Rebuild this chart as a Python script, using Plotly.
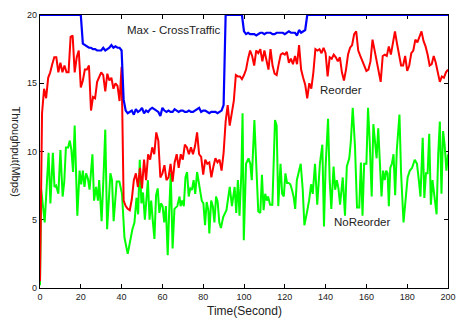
import plotly.graph_objects as go

# time axis (seconds)
time_s = list(range(0, 201))

# Max - CrossTraffic (Mbps), one value per second
max_cross = [
    20, 20, 20, 20, 20, 20, 20, 20, 20, 20,
    20, 20, 20, 20, 20, 20, 20, 20, 20, 20,
    20, 17.9, 17.8, 17.7, 17.6, 17.6, 17.5, 17.5, 17.4, 17.4,
    17.4, 17.6, 17.4, 17.5, 17.6, 17.8, 17.6, 17.7, 17.6, 17.6,
    17.4, 13.8, 13.0, 12.8, 12.9, 13.0, 12.7, 13.1, 12.9, 13.0,
    13.2, 12.8, 13.0, 12.9, 13.1, 13.2, 13.1, 13.0, 12.9, 12.6,
    13.2, 13.0, 12.9, 13.0, 12.9, 12.9, 13.1, 13.0, 12.9, 13.0,
    13.0, 12.9, 12.9, 13.0, 12.9, 12.9, 13.0, 13.1, 13.2, 12.9,
    13.0, 13.0, 12.9, 12.8, 12.9, 12.9, 12.9, 12.8, 12.9, 13.0,
    13.4, 20, 20, 20, 20, 20, 20, 20, 20, 20,
    18.8, 18.6, 18.7, 18.6, 18.6, 18.6, 18.5, 18.6, 18.7, 18.7,
    18.6, 18.7, 18.7, 18.7, 18.6, 18.6, 18.7, 18.7, 18.7, 18.7,
    18.6, 18.7, 18.8, 18.7, 18.7, 18.7, 18.5, 18.9, 18.7, 18.8,
    18.9, 20, 20, 20, 20, 20, 20, 20, 20, 20,
    20, 20, 20, 20, 20, 20, 20, 20, 20, 20,
    20, 20, 20, 20, 20, 20, 20, 20, 20, 20,
    20, 20, 20, 20, 20, 20, 20, 20, 20, 20,
    20, 20, 20, 20, 20, 20, 20, 20, 20, 20,
    20, 20, 20, 20, 20, 20, 20, 20, 20, 20,
    20, 20, 20, 20, 20, 20, 20, 20, 20, 20,
    20,
]

# Reorder (Mbps), one value per second
reorder = [
    0.5, 12.8, 14.6, 13.9, 15.4, 15.8, 16.4, 16.9, 16.9, 15.8,
    16.5, 15.8, 16.3, 15.8, 15.8, 18.4, 18.5, 15.8, 16.9, 17.4,
    14.7, 15.2, 16.0, 16.0, 16.3, 13.0, 14.0, 13.9, 15.1, 15.5,
    15.8, 15.6, 14.4, 15.7, 15.2, 15.4, 14.6, 15.0, 14.8, 13.7,
    16.2, 6.4, 6.0, 5.8, 5.7, 6.5, 7.9, 8.4, 7.4, 8.8,
    7.3, 9.4, 7.9, 9.8, 9.4, 10.3, 9.8, 11.4, 10.8, 8.1,
    8.4, 9.0, 7.9, 8.1, 9.1, 7.8, 9.2, 9.8, 8.8, 9.8,
    9.4, 10.5, 10.3, 9.8, 10.3, 9.8, 10.4, 11.4, 9.8, 9.6,
    8.3, 9.4, 9.1, 9.2, 8.1, 8.9, 9.5, 9.2, 9.4, 8.6,
    9.9, 12.2, 13.4, 11.9, 12.7, 13.7, 15.6, 15.5, 15.5, 15.3,
    15.6, 16.0, 16.8, 17.4, 17.0, 16.3, 17.4, 17.2, 17.5, 16.6,
    17.4, 16.6, 16.0, 17.5, 16.3, 15.7, 15.6, 16.4, 17.1, 17.2,
    17.1, 17.3, 16.5, 16.8, 16.4, 17.0, 16.4, 17.8, 16.0, 15.4,
    14.9, 13.9, 15.0, 14.6, 15.8, 17.5, 17.4, 17.5, 17.2, 17.6,
    17.2, 15.5, 16.9, 16.8, 17.1, 16.9, 16.6, 16.9, 15.8, 15.2,
    16.0, 17.1, 17.6, 17.8, 18.6, 18.8, 17.4, 17.0, 16.6, 16.3,
    15.9, 16.0, 16.6, 18.2, 17.4, 16.6, 15.9, 15.1, 17.0, 17.1,
    17.0, 17.7, 17.1, 18.0, 18.8, 17.9, 17.2, 16.3, 16.3, 17.0,
    15.9, 16.3, 17.2, 17.4, 18.2, 18.0, 18.4, 18.8, 18.1, 17.7,
    17.1, 16.3, 16.4, 17.0, 16.5, 15.7, 15.1, 15.5, 15.4, 15.8,
    16.0,
]

# NoReorder samples: (time in s, throughput in Mbps)
noreorder_samples = [
    (0, 0.2), (0.6, 7.2), (2.3, 4.8), (3.2, 7.0), (4.2, 9.9), (5.1, 6.2),
    (6.3, 9.9), (7.1, 7.4), (7.9, 7.5), (9.0, 6.9), (10.0, 10.1), (11.1, 6.7),
    (11.9, 7.8), (12.7, 10.3), (13.8, 10.3), (14.6, 10.8), (15.4, 10.1),
    (16.2, 8.5), (17.0, 11.9), (18.3, 5.3), (19.4, 8.6), (20.2, 7.6),
    (21.0, 8.6), (21.8, 7.4), (22.6, 8.4), (23.5, 8.0), (24.3, 7.2),
    (25.7, 9.8), (26.5, 6.4), (27.5, 7.4), (28.4, 6.4), (29.0, 7.9),
    (30.2, 4.9), (31.2, 8.4), (32.0, 11.6), (32.9, 4.3), (34.5, 8.4),
    (35.3, 7.9), (36.1, 4.9), (37.6, 7.8), (38.9, 7.8), (40.2, 6.9),
    (41.4, 3.7), (43.0, 2.5), (44.2, 3.5), (45.3, 4.3), (46.3, 4.8),
    (47.3, 6.6), (48.1, 5.4), (48.9, 9.4), (49.7, 6.2), (50.5, 7.0),
    (51.4, 5.0), (52.1, 6.4), (52.9, 7.9), (53.7, 5.0), (54.5, 6.4),
    (55.3, 4.9), (56.1, 3.6), (56.9, 6.8), (57.7, 7.3), (58.5, 5.5),
    (59.3, 6.2), (60.1, 6.0), (60.9, 4.8), (61.7, 6.0), (62.6, 2.4),
    (63.3, 5.5), (64.1, 8.4), (65.0, 2.9), (65.9, 5.8), (67.3, 6.0),
    (68.4, 6.7), (68.9, 6.0), (69.7, 6.4), (70.5, 6.0), (71.3, 8.1),
    (72.1, 8.5), (72.9, 6.7), (73.7, 7.3), (74.5, 7.2), (75.3, 7.9),
    (76.1, 6.9), (77.0, 8.5), (77.7, 7.9), (78.5, 7.4), (79.3, 6.4),
    (80.1, 6.2), (80.9, 4.6), (81.7, 6.3), (82.5, 5.7), (83.0, 4.0),
    (83.9, 6.4), (84.7, 6.0), (85.5, 4.8), (86.3, 6.7), (87.1, 6.3),
    (87.9, 4.8), (88.7, 4.4), (89.8, 5.2), (91.4, 5.7), (93.0, 7.4),
    (94.1, 6.0), (95.4, 7.4), (96.2, 5.5), (97.0, 7.9), (97.8, 5.3),
    (98.7, 8.4), (99.3, 12.8), (99.9, 3.5), (101.0, 9.1), (102.2, 9.5),
    (103.1, 9.1), (103.8, 7.9), (105.1, 12.3), (105.9, 9.4), (107.0, 5.6),
    (108.0, 5.5), (108.8, 8.3), (109.6, 5.7), (110.4, 6.9), (111.2, 6.4),
    (111.8, 6.7), (112.8, 6.1), (113.9, 6.1), (115.2, 12.3), (116.0, 11.9),
    (116.8, 6.0), (117.9, 9.1), (118.7, 6.9), (119.5, 6.7), (120.3, 8.4),
    (121.1, 7.7), (121.9, 7.7), (122.7, 7.6), (123.5, 7.2), (124.3, 6.7),
    (125.1, 5.8), (125.9, 7.9), (126.7, 8.4), (127.8, 9.1), (128.8, 7.2),
    (129.6, 4.6), (130.8, 5.5), (131.9, 6.4), (132.9, 7.6), (133.7, 6.9),
    (134.8, 9.1), (135.9, 6.1), (137.2, 9.1), (138.4, 10.5), (139.2, 4.5),
    (140.0, 8.9), (141.2, 12.4), (142.0, 7.9), (142.8, 5.8), (143.9, 8.9),
    (144.7, 7.2), (145.5, 7.9), (146.3, 7.3), (147.1, 6.1), (148.4, 8.1),
    (149.5, 5.3), (150.4, 8.9), (151.6, 9.5), (152.4, 10.8), (153.3, 13.2),
    (154.4, 10.4), (155.4, 5.9), (156.5, 5.9), (157.3, 9.2), (158.1, 5.3),
    (158.9, 9.1), (160.0, 9.1), (160.8, 13.2), (161.6, 10.8), (162.6, 6.7),
    (163.4, 12.0), (164.2, 10.8), (165.0, 9.5), (165.8, 11.7), (166.7, 8.9),
    (167.4, 6.7), (168.2, 8.6), (169.0, 7.9), (169.7, 8.6), (170.4, 8.4),
    (171.0, 6.0), (171.7, 8.8), (172.5, 9.1), (173.3, 9.8), (174.1, 6.8),
    (174.9, 10.1), (176.2, 12.7), (177.0, 8.4), (178.2, 4.8), (179.3, 6.9),
    (180.2, 8.1), (181.3, 8.6), (182.4, 8.8), (183.7, 9.4), (184.8, 9.1),
    (185.7, 7.9), (186.5, 6.7), (187.6, 11.0), (188.4, 6.6), (189.2, 8.4),
    (190.0, 8.4), (190.8, 11.3), (191.6, 6.1), (192.4, 7.9), (193.2, 6.9),
    (194.4, 5.4), (195.2, 9.8), (196.0, 12.2), (196.8, 6.9), (197.6, 11.5),
    (198.4, 10.4), (199.2, 8.6), (200.0, 9.8),
]
noreorder_t = [p[0] for p in noreorder_samples]
noreorder_v = [p[1] for p in noreorder_samples]

x_ticks = [0, 20, 40, 60, 80, 100, 120, 140, 160, 180, 200]
y_ticks = [0, 5, 10, 15, 20]

FONT = "Liberation Sans, Arial, sans-serif"
TXT = "#222222"

fig = go.Figure()
fig.add_trace(go.Scatter(x=noreorder_t, y=noreorder_v, mode="lines",
                         line=dict(color="#00ff00", width=2), name="NoReorder"))
fig.add_trace(go.Scatter(x=time_s, y=reorder, mode="lines",
                         line=dict(color="#ff0000", width=2), name="Reorder"))
fig.add_trace(go.Scatter(x=time_s, y=max_cross, mode="lines",
                         line=dict(color="#0000ff", width=2.2), name="Max - CrossTraffic"))

axis_common = dict(showline=True, linecolor="black", linewidth=1.3, mirror="ticks",
                   ticks="inside", ticklen=4, tickcolor="black", showgrid=False,
                   zeroline=False, tickfont=dict(family=FONT, size=9, color=TXT),
                   layer="below traces")

fig.update_xaxes(range=[0, 200], tickvals=x_ticks, **axis_common)
fig.update_yaxes(range=[0, 20], tickvals=y_ticks, **axis_common)

annots = [
    dict(x=65.8, y=18.9, xref="x", yref="y", text="Max - CrossTraffic"),
    dict(x=147.5, y=14.5, xref="x", yref="y", text="Reorder"),
    dict(x=157.6, y=4.8, xref="x", yref="y", text="NoReorder"),
]
for a in annots:
    fig.add_annotation(**a, showarrow=False, font=dict(family=FONT, size=11.5, color=TXT),
                       xanchor="center", yanchor="middle")

fig.add_annotation(x=0.5, y=0, xref="paper", yref="paper", yshift=-23, text="Time(Second)",
                   showarrow=False, xanchor="center", yanchor="middle",
                   font=dict(family=FONT, size=12, color=TXT))
fig.add_annotation(x=0, y=0.5, xref="paper", yref="paper", xshift=-24, text="Throughput(Mbps)",
                   textangle=90, showarrow=False, xanchor="center", yanchor="middle",
                   font=dict(family=FONT, size=11, color=TXT))

fig.update_layout(width=466, height=322, showlegend=False,
                  margin=dict(l=40, r=11, t=10, b=34),
                  paper_bgcolor="white", plot_bgcolor="white")

fig.write_html("out.html", config={"displayModeBar": False})

# remove the browser's default page margin so the figure sits at the window origin
with open("out.html", "r", encoding="utf-8") as f:
    html = f.read()
html = html.replace("<head>", "<head><style>html,body{margin:0;padding:0;overflow:hidden;}</style>", 1)
with open("out.html", "w", encoding="utf-8") as f:
    f.write(html)
